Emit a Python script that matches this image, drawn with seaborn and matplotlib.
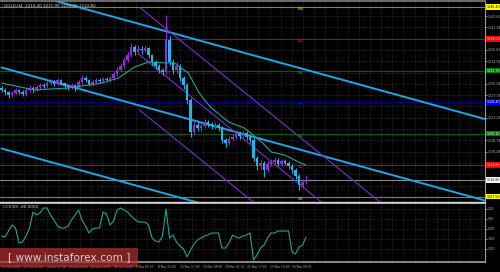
import numpy as np
import matplotlib
matplotlib.use("Agg")
import matplotlib.pyplot as plt
import matplotlib.transforms as mtransforms
from matplotlib.patches import Rectangle
import seaborn as sns

# ---------------- data ----------------
first_open = 1229.2
close = [1228.8, 1228.4, 1227.8, 1228.2, 1228.8, 1228.4, 1228.0, 1228.8, 1229.2, 1228.8,
         1229.4, 1229.8, 1229.6, 1230.2, 1230.4, 1230.0, 1230.8, 1230.2, 1229.6, 1229.4,
         1229.8, 1229.2, 1230.4, 1231.2, 1230.8, 1230.0, 1230.4, 1230.8, 1230.6, 1231.0,
         1230.8, 1231.2, 1232.0, 1232.8, 1233.6, 1234.8, 1235.8, 1237.4, 1236.4, 1237.0,
         1236.8, 1237.2, 1235.8, 1234.4, 1233.6, 1232.8, 1232.4, 1238.8, 1234.4, 1232.8,
         1233.6, 1231.2, 1229.8, 1226.8, 1220.4, 1221.8, 1221.2, 1221.6, 1222.4, 1222.0,
         1221.6, 1221.8, 1221.2, 1218.8, 1218.2, 1219.0, 1219.4, 1220.0, 1219.6, 1220.2,
         1219.4, 1218.8, 1215.2, 1213.6, 1214.2, 1212.8, 1214.0, 1214.4, 1214.8, 1214.0,
         1214.6, 1214.2, 1213.6, 1212.8, 1211.6, 1209.8, 1210.4, 1210.8]
high = [1229.6, 1229.2, 1228.7, 1228.6, 1229.3, 1229.1, 1228.9, 1229.2, 1229.8, 1229.6,
        1229.9, 1230.3, 1230.2, 1230.7, 1231.0, 1230.8, 1231.3, 1231.1, 1230.5, 1230.0,
        1230.2, 1230.1, 1230.9, 1231.8, 1231.6, 1231.1, 1230.9, 1231.3, 1231.2, 1231.5,
        1231.4, 1231.7, 1232.5, 1233.4, 1234.2, 1235.4, 1236.5, 1238.2, 1237.9, 1237.8,
        1237.6, 1237.9, 1237.5, 1236.1, 1234.9, 1234.0, 1233.3, 1243.8, 1239.6, 1235.0,
        1234.4, 1234.0, 1231.6, 1230.2, 1227.2, 1222.6, 1222.5, 1222.2, 1223.0, 1222.9,
        1222.5, 1222.4, 1222.3, 1221.6, 1219.3, 1219.6, 1220.0, 1220.7, 1220.5, 1220.9,
        1220.6, 1219.8, 1219.2, 1215.7, 1214.9, 1214.6, 1214.6, 1215.0, 1215.4, 1215.2,
        1215.1, 1215.0, 1214.6, 1214.0, 1213.2, 1212.0, 1211.0, 1211.9]
low = [1228.4, 1227.9, 1227.3, 1227.5, 1228.0, 1228.0, 1227.6, 1227.7, 1228.5, 1228.3,
       1228.6, 1229.1, 1229.2, 1229.3, 1229.9, 1229.6, 1229.8, 1229.8, 1229.1, 1228.9,
       1229.0, 1228.7, 1229.0, 1230.1, 1230.4, 1229.6, 1229.7, 1230.1, 1230.2, 1230.3,
       1230.4, 1230.5, 1230.9, 1231.7, 1232.5, 1233.3, 1234.5, 1235.5, 1235.8, 1236.0,
       1236.1, 1236.4, 1235.3, 1233.8, 1233.0, 1232.2, 1231.8, 1232.0, 1233.8, 1232.0,
       1232.2, 1230.6, 1229.0, 1226.0, 1219.4, 1219.8, 1220.6, 1220.7, 1221.2, 1221.5,
       1221.0, 1221.1, 1220.6, 1218.2, 1217.5, 1217.8, 1218.6, 1219.0, 1219.1, 1219.3,
       1218.9, 1218.2, 1214.6, 1212.9, 1213.0, 1211.4, 1212.4, 1213.6, 1214.0, 1213.6,
       1213.7, 1213.8, 1213.1, 1212.2, 1211.0, 1208.8, 1209.2, 1210.0]

ma_bar = [0, 9.4, 19.1, 28.6, 33.4, 38, 42, 47.7, 49.4, 53.4, 56.3, 58, 60, 64.9,
          69.4, 74.3, 77.1, 80.9, 84.9, 86.9]
ma_val = [1230.2, 1228.8, 1229.2, 1230.2, 1231.2, 1233.4, 1234.4, 1234.2, 1234.2, 1232.2,
          1228.4, 1226.8, 1225.2, 1222.4, 1221.2, 1218.4, 1216.4, 1215.8, 1214.4, 1213.8]

cci = [-70, -80, -20, 40, 10, -140, -130, -70, 10, 170,
       140, 160, 210, 210, 140, 90, 30, 10, 10, 30,
       90, 140, 190, 90, 30, -40, 0, 10, 10, 170,
       150, 40, 80, 190, 210, 190, 170, 130, 100, 70,
       70, 70, 40, -90, -120, -130, -70, 200, -90, -60,
       -130, -170, -200, -280, -210, -150, -110, -90, -70, -60,
       -40, -40, -40, -190, -190, -140, -60, -80, -90, -70,
       -60, -40, -310, -260, -190, -160, -90, -40, -40, -20,
       -20, -20, -20, -230, -250, -180, -160, -80]

pivot_names = ["R3", "R2", "R1", "PP", "S1", "S2", "S3"]
pivot_vals = [1245.4, 1239.0, 1232.7, 1226.4, 1220.1, 1213.8, 1207.5]

cyan_x = [0, 138.1]
cyan_upper = [1249.6, 1223.0]
cyan_mid = [1233.3, 1206.7]
cyan_low = [1217.1, 1190.5]

purple1_x = [39.4, 114.3]
purple1_y = [1245.36, 1202.9]
purple2_x = [39.4, 100.0]
purple2_y = [1235.84, 1201.5]
purple3_x = [39.4, 80.0]
purple3_y = [1224.8, 1201.8]

date_labels = ["11 Oct 2018", "17 Oct 05:00", "19 Oct 17:00", "24 Oct 09:00", "26 Oct 21:00",
               "31 Oct 13:00", "5 Nov 05:00", "8 Nov 01:00", "12 Nov 17:00", "15 Nov 09:00",
               "19 Nov 01:00", "21 Nov 17:00", "23 Nov 13:00", "26 Nov 09:00"]

# ---------------- style ----------------
sns.set_theme(style="dark")
plt.rcParams["font.family"] = ["DejaVu Sans"]
plt.rcParams["axes.facecolor"] = "black"
plt.rcParams["figure.facecolor"] = "black"

W, H = 500, 272
fig = plt.figure(figsize=(W / 100, H / 100), dpi=100)
fig.patch.set_facecolor("black")

PX = 3.5  # px per bar
def bx(px):
    return (px - 1.5) / PX

xlim = (bx(0), bx(485))
ax = fig.add_axes([0, 1 - 202 / H, 485 / W, 201 / H])
axi = fig.add_axes([0, 1 - 262 / H, 485 / W, 59 / H])
for a in (ax, axi):
    a.set_facecolor("black")
    a.set_xlim(*xlim)
ax.set_ylim(1206.4, 1246.6)
axi.set_ylim(-330, 260)

grid_col = "#4a4a4a"
grid_ls = (0, (1, 2))
vgrid = [bx(p) for p in np.arange(2, 485, 11.15)]
for a in (ax, axi):
    for v in vgrid:
        a.axvline(v, color=grid_col, lw=0.5, ls=grid_ls, zorder=0)

ticks = np.arange(1243.6, 1206.5, -2.26)
for t in ticks:
    ax.axhline(t, color=grid_col, lw=0.5, ls=grid_ls, zorder=0)
for t in [200, 100, 0, -100, -200]:
    axi.axhline(t, color=grid_col, lw=0.5, ls=grid_ls, zorder=0)

line_cols = ["#8c8c00", "#9a1010", "#0a5a0a", "#00008c", "#0a5a0a", "#9a1010", "#8c8c00"]
txt_cols = ["#b0b000", "#c01010", "#0a7a0a", "#1010c0", "#0a7a0a", "#c01010", "#b0b000"]
box_cols = ["#ffff00", "#ff0000", "#007a00", "#0000ff", "#007a00", "#ff0000", "#ffff00"]
box_txt = ["black", "white", "white", "white", "white", "white", "black"]
for n, v, lc, tc in zip(pivot_names, pivot_vals, line_cols, txt_cols):
    ax.axhline(v, color=lc, lw=0.8, zorder=1)
    ax.text(bx(301), v, n, color=tc, fontsize=3.0, ha="center", va="top",
            fontweight="bold", zorder=6)
last_close = close[-1]
ax.axhline(last_close, color="#8a8a8a", lw=0.8, zorder=1)

for yy in (cyan_upper, cyan_mid, cyan_low):
    sns.lineplot(x=cyan_x, y=yy, ax=ax, color="#19a8e8", lw=1.4, zorder=3)
for xx, yy in ((purple1_x, purple1_y), (purple2_x, purple2_y), (purple3_x, purple3_y)):
    sns.lineplot(x=xx, y=yy, ax=ax, color="#7b2fd0", lw=0.8, zorder=3)

opens = [first_open] + close[:-1]
idx = np.arange(len(close))
up_col, dn_col = "#9a28e0", "#1ab8f0"
cols = [up_col if c >= o else dn_col for o, c in zip(opens, close)]
ax.vlines(idx, low, high, colors=cols, lw=0.7, zorder=4)
bottoms = [min(o, c) for o, c in zip(opens, close)]
heights = [max(abs(c - o), 0.15) for o, c in zip(opens, close)]
ax.bar(idx, heights, bottom=bottoms, width=0.6, color=cols, lw=0, zorder=4)

sns.lineplot(x=ma_bar, y=ma_val, ax=ax, color="#1fa59a", lw=0.8, zorder=5)
sns.lineplot(x=idx, y=cci, ax=axi, color="#1fa59a", lw=0.8, zorder=3)

FS = 2.3
for a in (ax, axi):
    for s in a.spines.values():
        s.set_visible(False)
    a.spines["right"].set_visible(True)
    a.spines["right"].set_color("#9a9a9a")
    a.spines["right"].set_linewidth(0.8)
    a.yaxis.tick_right()
    a.tick_params(axis="y", labelsize=FS, colors="#b8b8b8", length=1.2, width=0.5, pad=0.6)
ax.spines["top"].set_visible(True)
ax.spines["top"].set_color("#7a7a7a")
ax.spines["bottom"].set_visible(True)
ax.spines["bottom"].set_color("#d0d0d0")
ax.spines["bottom"].set_linewidth(1.0)
axi.spines["top"].set_visible(True)
axi.spines["top"].set_color("#d0d0d0")
axi.spines["bottom"].set_visible(True)
axi.spines["bottom"].set_color("#9a9a9a")

marked = pivot_vals + [close[-1]]
ticks_shown = [t for t in ticks if min(abs(t - m) for m in marked) > 1.3]
ax.set_yticks(ticks_shown)
ax.set_yticklabels([f"{t:.2f}" for t in ticks_shown])
ax.set_xticks([])
ax.set_xlabel("")
ax.set_ylabel("")
axi.set_yticks([200, 100, 0, -100, -200])
axi.set_yticklabels(["200", "100", "0.00", "-100", "-200"])
axi.set_ylabel("")
axi.set_xticks(vgrid[0::2][:len(date_labels)])
axi.set_xticklabels(date_labels, ha="left")
axi.tick_params(axis="x", labelsize=2.1, colors="#b8b8b8", length=1.2, width=0.5, pad=0.8)

trans = mtransforms.blended_transform_factory(ax.transAxes, ax.transData)
for v, bc, tc in zip(pivot_vals, box_cols, box_txt):
    ax.text(1.004, v, f"{v:.2f}", transform=trans, fontsize=FS, color=tc, ha="left",
            va="center", clip_on=False, zorder=10,
            bbox=dict(boxstyle="square,pad=0.2", fc=bc, ec="none"))
ax.text(1.004, last_close, f"{last_close:.2f}", transform=trans, fontsize=FS, color="black",
        ha="left", va="center", clip_on=False, zorder=10,
        bbox=dict(boxstyle="square,pad=0.2", fc="white", ec="none"))

ax.text(0.008, 0.985, f"GOLD,H4  {opens[-1]:.2f} {high[-1]:.2f} {low[-1]:.2f} {close[-1]:.2f}",
        transform=ax.transAxes, fontsize=3.0, color="#d8d8d8", ha="left", va="top", zorder=10)
axi.text(0.006, 0.96, f"CCI(30) {cci[-1]:.4f}", transform=axi.transAxes, fontsize=3.0,
         color="#d8d8d8", ha="left", va="top", zorder=10)

fig.patches.append(Rectangle((0, 1 - 267 / H), 138 / W, 19 / H, transform=fig.transFigure,
                             facecolor="#b03030", alpha=0.7, edgecolor="none", zorder=20))
fig.text(69 / W, 1 - 257.5 / H, "[ www.instaforex.com ]", fontsize=7.6, color="#e0e0e0",
         ha="center", va="center", zorder=21, alpha=0.9)

fig.savefig("out.png", dpi=100, facecolor="black")
